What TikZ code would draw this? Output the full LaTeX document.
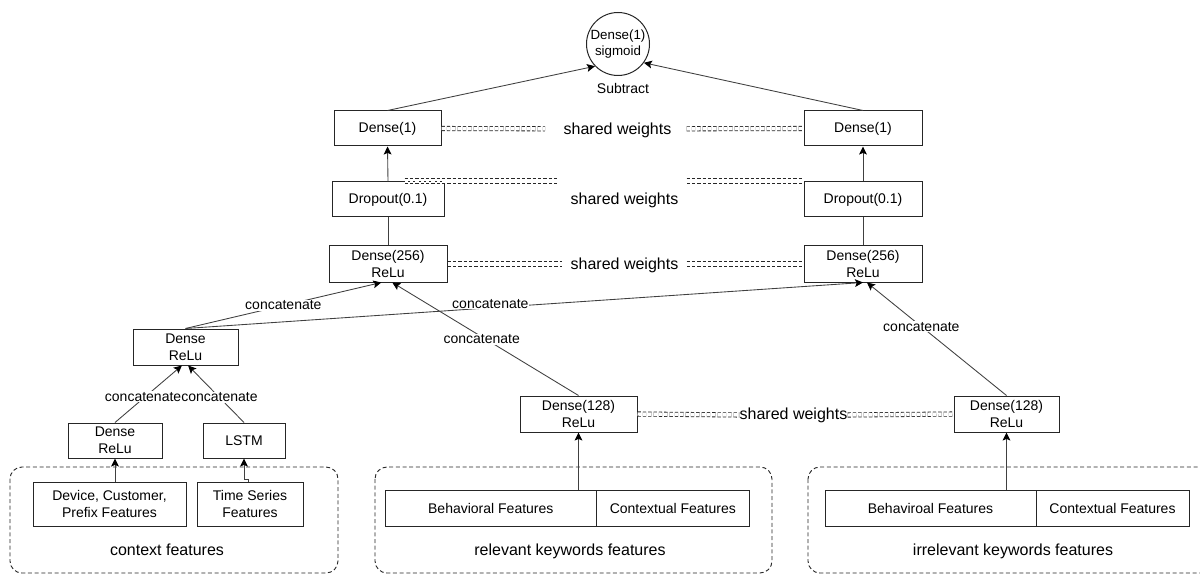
\documentclass[tikz,border=0pt]{standalone}
\usepackage{fontspec}
\setmainfont{Liberation Sans}
\usetikzlibrary{arrows.meta,calc}
\begin{document}
\begin{tikzpicture}[x=0.75pt,y=-0.75pt,
  box/.style={draw=black!85, line width=0.75pt, inner sep=0pt, align=center,
    font=\fontsize{10.5}{12.5}\selectfont, minimum height=36*0.75pt},
  grp/.style={draw=black!85, line width=0.7pt, dash pattern=on 3pt off 2pt, rounded corners=9pt},
  lbl/.style={font=\fontsize{12}{14}\selectfont, inner sep=0pt},
  con/.style={draw=black!75, line width=0.65pt},
  arr/.style={con, -{Stealth[length=6pt,width=5.8pt,inset=1.2pt,color=black]}},
  cat/.style={fill=white, inner sep=0.5pt, font=\fontsize{10.5}{12}\selectfont},
  swd/.style={draw=black!85, line width=0.6pt, double=white, double distance=2.6pt,
    dash pattern=on 2.5pt off 1.5pt}
]
\useasboundingbox (0,0) rectangle (1200,574);

% group frames
\draw[grp] (10,467) rectangle (338,573);
\draw[grp] (375,467) rectangle (772,573);
\draw[grp] (808,467) rectangle (1214,573);
\node[lbl] (ctxl) at (167,550) {context features};
\node[lbl] (rell) at (570,551) {relevant keywords features};
\node[lbl] (irrl) at (1013,551) {irrelevant keywords features};

% output
\node[circle, draw=black!85, line width=0.75pt, minimum size=63*0.75pt, inner sep=0pt,
  align=center, font=\fontsize{10}{12}\selectfont] (sig) at (618,44) {Dense(1)\\sigmoid};
\node[font=\fontsize{10.5}{12}\selectfont] (sub) at (623,88) {Subtract};

% towers
\node[box, minimum width=107*0.75pt, minimum height=35*0.75pt] (d1L) at (387.5,128.5) {Dense(1)};
\node[box, minimum width=118*0.75pt, minimum height=35*0.75pt] (d1R) at (863,128.5) {Dense(1)};
\node[box, minimum width=112*0.75pt, minimum height=35*0.75pt] (dropL) at (388,199.5) {Dropout(0.1)};
\node[box, minimum width=118*0.75pt, minimum height=35*0.75pt] (dropR) at (863,199.5) {Dropout(0.1)};
\node[box, minimum width=118*0.75pt] (d256L) at (388,264) {Dense(256)\\ReLu};
\node[box, minimum width=118*0.75pt] (d256R) at (863,264) {Dense(256)\\ReLu};

% context branch
\node[box, minimum width=105*0.75pt] (dtop) at (185.5,347) {Dense\\ReLu};
\node[box, minimum width=94*0.75pt, minimum height=35*0.75pt] (dsmall) at (115,440.5) {Dense\\ReLu};
\node[box, minimum width=82*0.75pt, minimum height=35*0.75pt] (lstm) at (244,440.5) {LSTM};
\node[box, minimum width=153*0.75pt, minimum height=44*0.75pt] (dev) at (109.5,504) {Device, Customer,\\Prefix Features};
\node[box, minimum width=106*0.75pt, minimum height=44*0.75pt] (ts) at (250,504) {Time Series\\Features};

% keyword branches
\node[box, minimum width=117*0.75pt] (d128L) at (578.5,414) {Dense(128)\\ReLu};
\node[box, minimum width=105*0.75pt] (d128R) at (1006.5,414) {Dense(128)\\ReLu};
\node[box, minimum width=211.6*0.75pt] (behL) at (490.8,508) {Behavioral Features};
\node[box, minimum width=152.4*0.75pt] (conL) at (672.8,508) {Contextual Features};
\node[box, minimum width=211*0.75pt] (behR) at (930.5,508) {Behaviroal Features};
\node[box, minimum width=153*0.75pt] (conR) at (1112.5,508) {Contextual Features};

% shared weights
\node[lbl] (sw1) at (617.5,130) {shared weights};
\node[lbl] (sw2) at (624.5,200) {shared weights};
\node[lbl] (sw3) at (624.5,265) {shared weights};
\node[lbl] (sw4) at (793.5,415) {shared weights};
\coordinate (s1a) at (545,128.8);
\coordinate (s1b) at (686.5,128.8);
\coordinate (s2a) at (404.5,181);
\coordinate (s2b) at (558,181);
\coordinate (s2c) at (686.5,181);
\coordinate (s3a) at (562,264);
\coordinate (s3b) at (686.5,264);
\draw[swd] (d1L.east) -- (s1a);
\draw[swd] (s1b) -- (d1R.west);
\draw[swd] (s2a) -- (s2b);
\draw[swd] (s2c) -- (s2c -| dropR.west);
\draw[swd] (d256L.east) -- (s3a);
\draw[swd] (s3b) -- (d256R.west);
\draw[swd] (d128L.east) -- (sw4.west);
\draw[swd] (sw4.east) -- (d128R.west);

% connectors
\draw[arr] (d1L.north) -- (sig.224);
\draw[arr] (d1R.north) -- (sig.-36);
\draw[arr] (dropL.north) -- (d1L.south);
\draw[arr] (dropR.north) -- (d1R.south);
\draw[con] (d256L.north) -- (dropL.south);
\draw[con] (d256R.north) -- (dropR.south);

\draw[arr] (dtop.north) -- node[cat, pos=0.5] {concatenate} (d256L.250);
\draw[arr] (dtop.north) -- node[cat, pos=0.45, yshift=3pt] {concatenate} (d256R.south);
\draw[arr] (d128L.north) -- node[cat, pos=0.52, yshift=-2pt] {concatenate} (d256L.283);
\draw[arr] (d128R.north) -- node[cat, pos=0.61] {concatenate} (d256R.282);

\draw[arr] (dsmall.north) -- node[cat, pos=0.42, yshift=1.5pt] {concatenate} (dtop.259);
\draw[arr] (lstm.north) -- node[cat, pos=0.44] {concatenate} (dtop.278);

\draw[arr] (dsmall.south |- dev.north) -- (dsmall.south);
\draw[arr] ([xshift=-1.5pt]ts.north) -- ++(0,-2) -| (lstm.south);
\draw[arr] (d128L.south |- behL.north) -- (d128L.south);
\draw[arr] (d128R.south |- behR.north) -- (d128R.south);
\end{tikzpicture}
\end{document}
